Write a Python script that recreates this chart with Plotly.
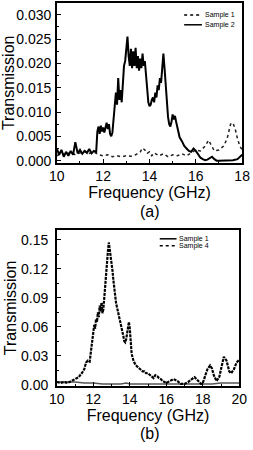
import plotly.graph_objects as go

# ---- Panel (a) data ----
a_s2_x = [10.0,10.1,10.2,10.3,10.4,10.5,10.6,10.7,10.8,10.9,11.0,11.1,11.2,11.3,11.4,11.5,11.6,11.7,
          11.75,11.8,11.85,11.9,11.95,12.0,12.05,12.1,12.15,12.2,12.25,12.3,12.35,12.4,12.45,12.5,12.55,
          12.6,12.65,12.7,12.75,12.8,12.85,12.9,12.95,13.0,13.05,13.1,13.15,13.2,13.25,13.3,13.35,13.4,
          13.45,13.5,13.55,13.6,13.65,13.7,13.75,13.8,13.85,13.9,13.95,14.0,14.05,14.1,14.15,14.2,14.25,
          14.3,14.35,14.4,14.45,14.5,14.55,14.6,14.65,14.7,14.75,14.8,14.85,14.9,14.95,15.0,15.05,15.1,
          15.15,15.2,15.25,15.3,15.4,15.5,15.6,15.7,15.8,15.9,16.0,16.1,16.2,16.3,16.4,16.5,16.6,16.7,
          16.8,16.9,17.0,17.2,17.4,17.6,17.8,17.9,18.0]
a_s2_y = [0.0025,0.0012,0.0022,0.0008,0.0018,0.0010,0.0020,0.0012,0.0038,0.0015,0.0022,0.0014,0.0020,0.0016,
          0.0024,0.0015,0.0020,0.0018,0.0060,0.0070,0.0055,0.0072,0.0060,0.0068,0.0058,0.0070,0.0078,0.0065,
          0.0075,0.0055,0.0050,0.0058,0.0085,0.0120,0.0140,0.0115,0.0170,0.0125,0.0145,0.0120,0.0160,0.0195,
          0.0205,0.0230,0.0255,0.0215,0.0195,0.0230,0.0190,0.0225,0.0195,0.0232,0.0190,0.0215,0.0185,0.0210,
          0.0190,0.0220,0.0195,0.0205,0.0170,0.0135,0.0120,0.0112,0.0115,0.0125,0.0130,0.0120,0.0140,0.0130,
          0.0155,0.0145,0.0170,0.0160,0.0185,0.0220,0.0190,0.0150,0.0120,0.0090,0.0075,0.0070,0.0080,0.0095,
          0.0085,0.0092,0.0080,0.0070,0.0055,0.0048,0.0040,0.0030,0.0025,0.0020,0.0018,0.0025,0.0020,0.0012,
          0.0006,0.0003,0.0001,0.0002,0.0006,0.0008,0.0003,0.0000,0.0000,0.0000,0.0000,0.0001,0.0003,0.0008,
          0.0012]

a_s1_x = [10.0,10.2,10.4,10.6,10.8,11.0,11.2,11.4,11.6,11.8,12.0,12.2,12.4,12.6,12.8,13.0,13.2,13.4,13.6,
          13.7,13.8,13.9,14.0,14.1,14.2,14.4,14.6,14.8,15.0,15.2,15.4,15.6,15.8,16.0,16.2,16.4,16.55,16.7,
          16.8,17.0,17.2,17.35,17.5,17.6,17.7,17.8,17.9,18.0]
a_s1_y = [0.0010,0.0015,0.0012,0.0018,0.0012,0.0016,0.0020,0.0015,0.0018,0.0012,0.0010,0.0012,0.0008,0.0010,
          0.0008,0.0010,0.0009,0.0012,0.0018,0.0026,0.0022,0.0015,0.0018,0.0010,0.0016,0.0010,0.0014,0.0008,
          0.0012,0.0010,0.0014,0.0010,0.0016,0.0022,0.0020,0.0030,0.0042,0.0030,0.0020,0.0022,0.0030,0.0045,
          0.0075,0.0078,0.0065,0.0045,0.0030,0.0022]

# ---- Panel (b) data ----
b_s4_x = [10.0,10.2,10.4,10.6,10.8,11.0,11.2,11.4,11.5,11.6,11.7,11.8,11.9,12.0,12.05,12.1,12.15,12.2,12.25,
          12.3,12.35,12.4,12.45,12.5,12.55,12.6,12.65,12.7,12.75,12.8,12.85,12.9,12.95,13.0,13.05,13.1,13.15,
          13.2,13.25,13.3,13.35,13.4,13.45,13.5,13.55,13.6,13.65,13.7,13.75,13.8,13.85,13.9,13.95,14.0,14.05,
          14.1,14.2,14.3,14.4,14.5,14.6,14.7,14.8,14.9,15.0,15.1,15.2,15.3,15.4,15.5,15.6,15.7,15.8,15.9,16.0,
          16.2,16.4,16.6,16.8,17.0,17.2,17.4,17.55,17.7,17.9,18.0,18.1,18.25,18.4,18.5,18.6,18.75,18.9,19.0,
          19.15,19.3,19.45,19.55,19.7,19.85,20.0]
b_s4_y = [0.003,0.002,0.003,0.002,0.004,0.006,0.008,0.013,0.016,0.023,0.025,0.024,0.040,0.055,0.062,0.058,
          0.068,0.065,0.075,0.070,0.082,0.076,0.085,0.074,0.078,0.090,0.105,0.120,0.130,0.138,0.147,0.140,
          0.136,0.130,0.118,0.108,0.098,0.088,0.084,0.080,0.076,0.070,0.067,0.065,0.060,0.055,0.050,0.045,
          0.044,0.047,0.052,0.060,0.065,0.058,0.040,0.032,0.025,0.021,0.019,0.017,0.016,0.014,0.014,0.012,
          0.012,0.010,0.008,0.007,0.010,0.009,0.007,0.006,0.004,0.003,0.002,0.004,0.006,0.004,0.001,0.001,
          0.003,0.006,0.008,0.005,0.001,0.002,0.008,0.016,0.020,0.017,0.010,0.004,0.008,0.018,0.029,0.025,
          0.014,0.012,0.016,0.023,0.026]

b_s1_x = [10.0,10.5,11.0,11.5,12.0,12.5,13.0,13.5,13.8,14.0,14.5,15.0,15.5,16.0,16.5,17.0,17.5,18.0,18.5,
          19.0,19.5,20.0]
b_s1_y = [0.003,0.003,0.003,0.002,0.002,0.001,0.001,0.001,0.002,0.001,0.001,0.001,0.001,0.001,0.001,0.001,
          0.0005,0.001,0.001,0.002,0.002,0.002]

a_legend = ["Sample 1", "Sample 2"]
b_legend = ["Sample 1", "Sample 4"]

FONT = "Liberation Sans, Arial, sans-serif"

fig = go.Figure()
fig.add_trace(go.Scatter(x=a_s1_x, y=a_s1_y, mode="lines", line=dict(color="#222", width=1.5, dash="dot"),
                         xaxis="x", yaxis="y", showlegend=False))
fig.add_trace(go.Scatter(x=a_s2_x, y=a_s2_y, mode="lines", line=dict(color="black", width=2),
                         xaxis="x", yaxis="y", showlegend=False))
fig.add_trace(go.Scatter(x=b_s1_x, y=b_s1_y, mode="lines", line=dict(color="#555", width=1.5),
                         xaxis="x2", yaxis="y2", showlegend=False))
fig.add_trace(go.Scatter(x=b_s4_x, y=b_s4_y, mode="lines", line=dict(color="black", width=2.2, dash="3px,1px"),
                         xaxis="x2", yaxis="y2", showlegend=False))

axis_common = dict(showline=True, linecolor="black", linewidth=1.5, mirror=True, ticks="inside",
                   ticklen=4, tickwidth=1, tickcolor="black", showgrid=False, zeroline=False,
                   ticklabeloverflow="allow",
                   tickfont=dict(family=FONT, size=14, color="black"))

fig.update_layout(
    width=253, height=450, margin=dict(l=0, r=0, t=0, b=0),
    paper_bgcolor="white", plot_bgcolor="white", showlegend=False,
    xaxis=dict(domain=[0.206, 0.988], range=[10, 18], dtick=2, anchor="y",
               minor=dict(ticks="inside", ticklen=2, dtick=1, tickcolor="black"),
               title=dict(text="Frequency (GHz)", font=dict(family=FONT, size=16, color="black"), standoff=0),
               **axis_common),
    yaxis=dict(domain=[0.633, 0.993], range=[-0.0004, 0.0324], dtick=0.005, tickformat=".3f", anchor="x",
               minor=dict(ticks="inside", ticklen=2, dtick=0.0025, tickcolor="black"),
               title=dict(text="Transmission", font=dict(family=FONT, size=16, color="black"), standoff=0),
               ticklabelstandoff=1,
               **axis_common),
    xaxis2=dict(domain=[0.206, 0.976], range=[10, 20], dtick=2, anchor="y2",
                minor=dict(ticks="inside", ticklen=2, dtick=1, tickcolor="black"),
                title=dict(text="Frequency (GHz)", font=dict(family=FONT, size=16, color="black"), standoff=0),
                **axis_common),
    yaxis2=dict(domain=[0.129, 0.481], range=[-0.001, 0.160], dtick=0.03, tickformat=".2f", anchor="x2",
                minor=dict(ticks="inside", ticklen=2, dtick=0.015, tickcolor="black"),
                title=dict(text="Transmission", font=dict(family=FONT, size=16, color="black"), standoff=0),
                ticklabelstandoff=4,
                **axis_common),
)

# Manual compact legends
shapes = []
annotations = []
leg_specs = [
    ("x", "y", 0.687, 0.783, [0.926, 0.864], a_legend, ["dot", "solid"]),
    ("x2", "y2", 0.564, 0.656, [0.943, 0.899], b_legend, ["solid", "dot"]),
]
for xr, yr, x0, x1, ys, labels, dashes in leg_specs:
    for yy, lab, d in zip(ys, labels, dashes):
        shapes.append(dict(type="line", xref=f"{xr} domain", yref=f"{yr} domain", x0=x0, x1=x1, y0=yy, y1=yy,
                           line=dict(color="black", width=1.5, dash=d)))
        annotations.append(dict(xref=f"{xr} domain", yref=f"{yr} domain", x=x1 + 0.005, y=yy, text=lab,
                                showarrow=False, xanchor="left", yanchor="middle",
                                font=dict(family=FONT, size=7, color="black")))

annotations.append(dict(xref="paper", yref="paper", x=0.60, y=1 - 215 / 450, text="(a)", showarrow=False,
                        xanchor="center", yanchor="middle", font=dict(family=FONT, size=16, color="black")))
annotations.append(dict(xref="paper", yref="paper", x=0.60, y=1 - 440 / 450, text="(b)", showarrow=False,
                        xanchor="center", yanchor="middle", font=dict(family=FONT, size=16, color="black")))

fig.update_layout(shapes=shapes, annotations=annotations)
fig.write_html("out.html")
